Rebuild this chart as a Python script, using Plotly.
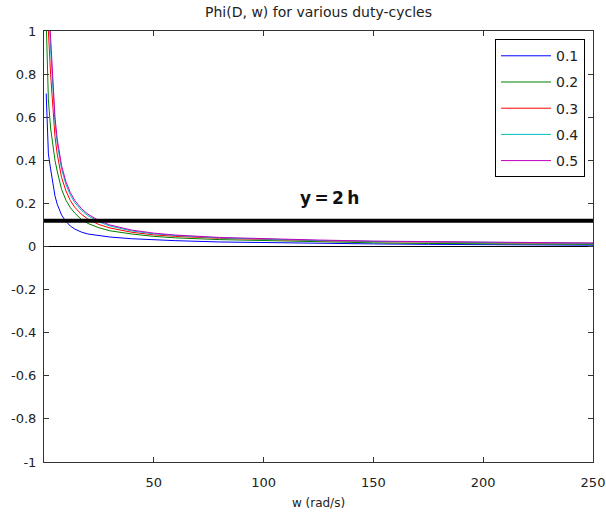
import plotly.graph_objects as go

# ---- data ----
w = [1, 1.5, 2, 3, 4, 5, 6, 7, 8, 10, 12, 14, 17, 20, 25, 30, 40, 50, 60, 80,
     100, 125, 150, 175, 200, 225, 250]

phi_01 = [0.71, 0.52, 0.43, 0.36, 0.29, 0.235, 0.197, 0.168, 0.146, 0.116, 0.095,
          0.081, 0.067, 0.058, 0.050, 0.044, 0.036, 0.031, 0.027, 0.021,
          0.018, 0.014, 0.012, 0.010, 0.0075, 0.0068, 0.006]
phi_02 = [1.05, 0.82, 0.68, 0.55, 0.47, 0.40, 0.35, 0.305, 0.265, 0.215, 0.18,
          0.155, 0.126, 0.107, 0.087, 0.073, 0.058, 0.047, 0.040, 0.032,
          0.027, 0.021, 0.017, 0.014, 0.012, 0.011, 0.010]
phi_03 = [1.40, 1.15, 1.0, 0.80, 0.63, 0.51, 0.43, 0.37, 0.32, 0.258, 0.213,
          0.182, 0.150, 0.127, 0.102, 0.086, 0.066, 0.054, 0.047, 0.038,
          0.032, 0.027, 0.023, 0.020, 0.018, 0.016, 0.015]
phi_04 = [1.6, 1.3, 1.12, 0.92, 0.72, 0.575, 0.48, 0.41, 0.36, 0.287, 0.238,
          0.204, 0.168, 0.143, 0.114, 0.095, 0.072, 0.059, 0.051, 0.040,
          0.034, 0.028, 0.024, 0.021, 0.018, 0.016, 0.015]
phi_05 = [1.65, 1.35, 1.17, 0.97, 0.76, 0.60, 0.50, 0.43, 0.375, 0.30, 0.25,
          0.214, 0.176, 0.150, 0.120, 0.100, 0.076, 0.062, 0.053, 0.042,
          0.036, 0.030, 0.025, 0.022, 0.019, 0.017, 0.016]

series_names = ["0.1", "0.2", "0.3", "0.4", "0.5"]
series_values = [phi_01, phi_02, phi_03, phi_04, phi_05]
series_colors = ["#0000ff", "#008000", "#ff0000", "#00bfbf", "#bf00bf"]

h2_x = [0, 250]
h2_y = [0.12, 0.12]
h2_label = "y\u2009=\u20092\u2009h"
h2_label_pos = (130, 0.225)

x_tickvals = [50, 100, 150, 200, 250]
x_ticktext = ["50", "100", "150", "200", "250"]
y_tickvals = [-1, -0.8, -0.6, -0.4, -0.2, 0, 0.2, 0.4, 0.6, 0.8, 1]
y_ticktext = ["-1", "-0.8", "-0.6", "-0.4", "-0.2", "0", "0.2", "0.4", "0.6", "0.8", "1"]

FONT = "DejaVu Sans"

fig = go.Figure()
for name, vals, col in zip(series_names, series_values, series_colors):
    fig.add_trace(go.Scatter(x=w, y=vals, mode="lines", name=name,
                             legendgroup=name,
                             line=dict(color=col, width=1)))

fig.add_trace(go.Scatter(x=h2_x, y=h2_y, mode="lines", showlegend=False,
                         line=dict(color="black", width=4), hoverinfo="skip"))

fig.add_annotation(x=h2_label_pos[0], y=h2_label_pos[1], text="<b>" + h2_label + "</b>",
                   showarrow=False, font=dict(family="DejaVu Sans", size=17, color="#111"),
                   xanchor="center", yanchor="middle")

fig.update_layout(
    width=606, height=518,
    margin=dict(l=44, r=13, t=31, b=56, autoexpand=False),
    paper_bgcolor="white", plot_bgcolor="white",
    font=dict(family=FONT, size=13, color="#222"),
    title=dict(text="Phi(D, w) for various duty-cycles", x=0.5, xref="paper",
               xanchor="center", y=1 - 12 / 518, yanchor="middle",
               font=dict(family=FONT, size=14, color="#222")),
    showlegend=True,
    legend=dict(x=0.8215, y=0.981, xanchor="left", yanchor="top",
                bgcolor="white", bordercolor="black", borderwidth=1,
                font=dict(family=FONT, size=14, color="#222"),
                tracegroupgap=5, itemwidth=50),
)

fig.update_xaxes(range=[0, 250], tickvals=x_tickvals, ticktext=x_ticktext,
                 ticks="inside", ticklen=5, tickcolor="#333", showline=True,
                 linecolor="#333", linewidth=1, mirror="ticks", showgrid=False,
                 zeroline=False, automargin=False, ticklabelstandoff=8,
                 title=dict(text="w (rad/s)", standoff=10,
                            font=dict(family=FONT, size=12, color="#222")))
fig.update_yaxes(range=[-1, 1], tickvals=y_tickvals, ticktext=y_ticktext,
                 ticks="inside", ticklen=5, tickcolor="#333", showline=True,
                 linecolor="#333", linewidth=1, mirror="ticks", showgrid=False,
                 zeroline=True, zerolinecolor="black", zerolinewidth=1,
                 automargin=False, ticklabelstandoff=4)

fig.write_html("out.html", config={"displayModeBar": False},
               post_script="document.body.style.margin='0';")
